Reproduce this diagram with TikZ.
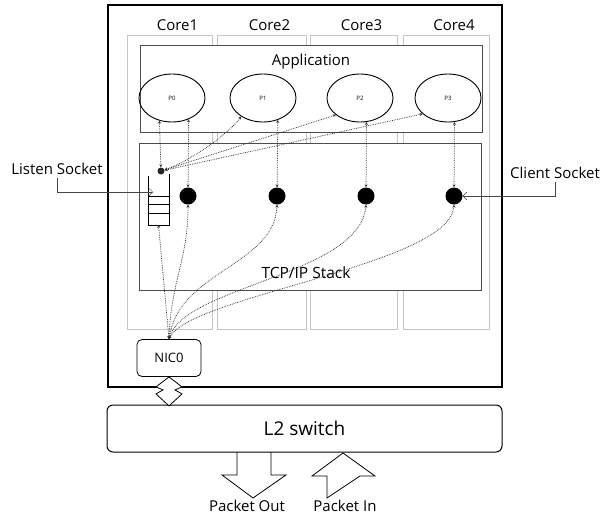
\documentclass[tikz,border=0pt]{standalone}
\usepackage{fontspec}
\setmainfont{Open Sans}
\usetikzlibrary{arrows.meta,shapes.geometric}

\begin{document}
\begin{tikzpicture}[x=1pt,y=-1pt,font=\fontsize{15}{17}\selectfont,
  link/.style={densely dotted,gray!40!black,line width=0.75pt,{Stealth[length=3pt,width=3pt]}-{Stealth[length=3pt,width=3pt]}},
  callout/.style={gray!55!black,line width=0.5pt,-{Straight Barb[length=4pt,width=8pt]}},
  proc/.style={ellipse,draw,line width=0.9pt,minimum width=66pt,minimum height=48pt,inner sep=0pt,font=\fontsize{6}{7}\selectfont},
  sock/.style={circle,fill=black,minimum size=17pt,inner sep=0pt},
  corebox/.style={draw=gray!45,line width=0.8pt},
  layer/.style={draw=gray!60!black,fill=white,line width=0.8pt}]
  \useasboundingbox (0,0) rectangle (612,517);
  \draw[line width=1.1pt] (108,5) rectangle (502,387);
  \foreach \i/\xa/\xb in {1/127/212,2/217/306,3/310/397,4/403/489}{
    \draw[corebox] (\xa,35) rectangle (\xb,329);
    \node (core\i) at ({(\xa+\xb)/2+8},25) {Core\i};}
  \draw[layer] (140,45) rectangle (482,132);
  \node (app) at (311,62) {Application};
  \draw[layer] (139,143) rectangle (481,290);
  \node[font=\fontsize{15.5}{17}\selectfont] (tcp) at (306,273) {TCP/IP Stack};
  % processes and sockets
  \foreach \i/\x in {0/172,1/263,2/360,3/448} \node[proc] (p\i) at (\x,98) {P\i};
  \foreach \i/\x in {1/188,2/277,3/366,4/454} \node[sock] (s\i) at (\x,196) {};
  \node[circle,fill=gray!30!black,minimum size=7pt,inner sep=0pt] (ls) at (161,171) {};
  \draw[line width=0.7pt] (148,176) |- (169,225) -- (169,174);
  \foreach \y in {196,204,213} \draw[line width=0.7pt] (148,\y) -- (169,\y);
  \coordinate (qbot) at (158.5,225);
  \coordinate (qin) at (153,192);
  \node[draw,rounded corners=5pt,minimum width=64pt,minimum height=37pt,line width=0.8pt,font=\fontsize{13}{15}\selectfont] (nic) at (169,358) {NIC0};
  % connections
  \draw[link] (ls) -- (p0.241);
  \draw[link] (s1) -- (p0.308);
  \draw[link] (s2) -- (p1.304);
  \draw[link] (s3) -- (p2.285);
  \draw[link] (s4) -- (p3.285);
  \draw[link] (ls) .. controls +(30,-10) and +(-10,15) .. (p1.220);
  \draw[link] (ls) -- (p2.215);
  \draw[link] (ls) -- (p3.212);
  \draw[link] (nic.north) -- (qbot);
  \draw[link] (nic.north) .. controls +(2,-58) and +(0,55) .. (s1.south);
  \draw[link] (nic.north) .. controls +(10,-68) and +(-2,60) .. (s2.south);
  \draw[link] (nic.north) .. controls +(15,-53) and +(-6,70) .. (s3.south);
  \draw[link] (nic.north) .. controls +(20,-43) and +(-4,60) .. (s4.south);
  \node (lsl) at (57,169) {Listen Socket};
  \draw[callout] (lsl.south) |- (qin);
  \node (csl) at (555,173) {Client Socket};
  \draw[callout] (csl.south) |- (s4.east);
  % switch
  \node[draw,rounded corners=6pt,minimum width=395pt,minimum height=47pt,line width=1pt,font=\fontsize{19}{22}\selectfont] (l2) at (304.5,428.5) {L2 switch};
  \draw[line width=0.8pt,fill=white] (nic.south) -- ++(13,10) -- ++(-7,3) -- ++(7,4) -- ++(-13,12) -- ++(-13,-12) -- ++(7,-4) -- ++(-7,-3) -- cycle;
  \draw[line width=0.8pt] (237,452) -- (237,475) -- (222,475) -- (253,498) -- (286,475) -- (271,475) -- (271,452);
  \draw[line width=0.8pt] (327,498) -- (327,476) -- (312,476) -- (343,453) -- (375,476) -- (360,476) -- cycle;
  \node (pout) at (247,506) {Packet Out};
  \node (pin) at (345,506) {Packet In};
\end{tikzpicture}
\end{document}
